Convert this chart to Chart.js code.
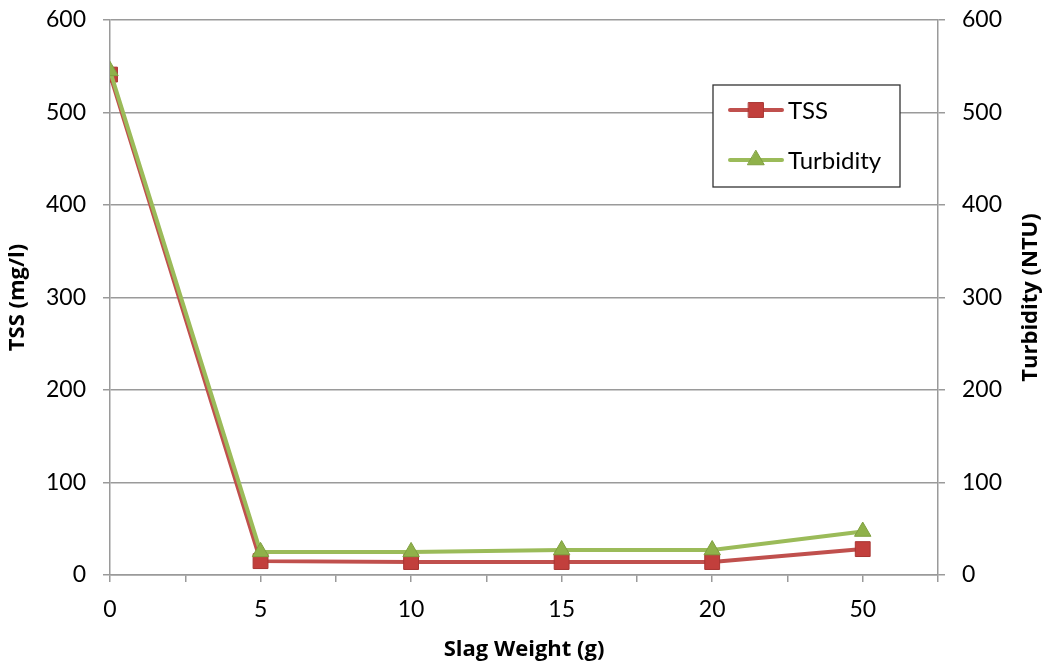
<!DOCTYPE html>
<html>
<head>
<meta charset="utf-8">
<script src="https://cdn.jsdelivr.net/npm/chart.js@4"></script>
<style>
    html, body { margin: 0; padding: 0; background: #fff; }
    #wrap { width: 1047px; height: 666px; }
</style>
</head>
<body>
<div id="wrap"><canvas id="myChart" width="1047" height="666"></canvas></div>
<script>
// data
const slagWeights = ['0', '5', '10', '15', '20', '50'];
const tss = [541, 15, 14, 14, 14, 28];
const turbidity = [545, 25, 25, 27, 27, 47];
const yTicks = [0, 100, 200, 300, 400, 500, 600];

const font = 'Lato, "Open Sans", sans-serif';
const boldFont = '"Open Sans", "Noto Sans", sans-serif';
const gridColor = '#9a9a9a';

const toPoints = (vals) => vals.map((v, i) => ({ x: i, y: v }));

function drawMarker(ctx, style, r, x, y) {
    if (style === 'rect') {
        const s = r * Math.SQRT1_2;
        ctx.rect(x - s, y - s, 2 * s, 2 * s);
    } else {
        ctx.moveTo(x, y - r);
        ctx.lineTo(x + r * 0.866, y + r / 2);
        ctx.lineTo(x - r * 0.866, y + r / 2);
        ctx.closePath();
    }
}

// legend box inside the plot + right axis title (reads bottom to top)
const boxLegend = {
    id: 'boxLegend',
    afterDraw(chart) {
        const ctx = chart.ctx;
        const x = 713, y = 85, w = 187, h = 102;
        ctx.save();
        ctx.fillStyle = '#fff';
        ctx.fillRect(x, y, w, h);
        ctx.strokeStyle = '#333';
        ctx.lineWidth = 1.3;
        ctx.strokeRect(x, y, w, h);
        chart.data.datasets.forEach((ds, i) => {
            const cy = y + 25 + i * 50;
            ctx.strokeStyle = ds.borderColor;
            ctx.lineWidth = 4;
            ctx.lineCap = 'round';
            ctx.beginPath();
            ctx.moveTo(730, cy);
            ctx.lineTo(782, cy);
            ctx.stroke();
            ctx.fillStyle = ds.pointBackgroundColor;
            ctx.strokeStyle = ds.pointBorderColor;
            ctx.lineWidth = 1;
            ctx.beginPath();
            drawMarker(ctx, ds.pointStyle, ds.pointRadius, 756, cy);
            ctx.fill();
            ctx.stroke();
            ctx.fillStyle = '#000';
            ctx.font = '24px ' + font;
            ctx.textBaseline = 'middle';
            ctx.textAlign = 'left';
            ctx.fillText(ds.label, 788, cy + 1);
        });

        const area = chart.chartArea;
        ctx.translate(1031, (area.top + area.bottom) / 2);
        ctx.rotate(-Math.PI / 2);
        ctx.fillStyle = '#000';
        ctx.font = 'bold 22px ' + boldFont;
        ctx.textAlign = 'center';
        ctx.textBaseline = 'middle';
        ctx.fillText('Turbidity (NTU)', 0, 0);
        ctx.restore();
    },
};

const fitY = (w) => (s) => {
    s.width = w;
    s.paddingTop = 0;
    s.paddingBottom = 0;
};

new Chart(document.getElementById('myChart'), {
    type: 'line',
    data: {
        datasets: [
            {
                label: 'TSS',
                data: toPoints(tss),
                yAxisID: 'y',
                borderColor: '#c0504d',
                borderWidth: 4,
                pointStyle: 'rect',
                pointRadius: 10.5,
                pointBackgroundColor: '#c23f3c',
                pointBorderColor: '#a83532',
                pointBorderWidth: 1,
                order: 2,
            },
            {
                label: 'Turbidity',
                data: toPoints(turbidity),
                yAxisID: 'y2',
                borderColor: '#9bbb59',
                borderWidth: 4,
                pointStyle: 'triangle',
                pointRadius: 9.5,
                pointBackgroundColor: '#8fb14a',
                pointBorderColor: '#7f9f3f',
                pointBorderWidth: 1,
                order: 1,
            },
        ],
    },
    options: {
        responsive: false,
        animation: false,
        layout: { autoPadding: false, padding: { top: 20, left: 0, right: 0, bottom: 0 } },
        plugins: {
            legend: { display: false },
            tooltip: { enabled: false },
        },
        scales: {
            x: {
                type: 'linear',
                min: 0,
                max: 5.5,
                afterFit: (s) => { s.height = 91; },
                afterBuildTicks: (s) => {
                    s.ticks = [];
                    for (let i = 0; i <= 11; i++) s.ticks.push({ value: i / 2 });
                },
                ticks: {
                    autoSkip: false,
                    maxRotation: 0,
                    padding: 14,
                    color: '#000',
                    font: { family: font, size: 23 },
                    callback: (v) => (Number.isInteger(v) ? slagWeights[v] : ''),
                },
                grid: { drawOnChartArea: false, color: gridColor, lineWidth: 1.5, tickLength: 7 },
                border: { color: gridColor, width: 1.5 },
                title: {
                    display: true,
                    text: 'Slag Weight (g)',
                    color: '#000',
                    font: { family: boldFont, size: 22, weight: 'bold' },
                    padding: { top: 4, bottom: 3 },
                },
            },
            y: {
                position: 'left',
                min: 0,
                max: 600,
                afterFit: fitY(110),
                afterBuildTicks: (s) => { s.ticks = yTicks.map((v) => ({ value: v })); },
                ticks: {
                    padding: 17,
                    color: '#000',
                    font: { family: font, size: 23 },
                },
                grid: { color: gridColor, lineWidth: 1.5, tickLength: 7 },
                border: { color: gridColor, width: 1.5 },
                title: {
                    display: true,
                    text: 'TSS (mg/l)',
                    color: '#000',
                    font: { family: boldFont, size: 22, weight: 'bold' },
                    padding: { bottom: 0, top: 5 },
                },
            },
            y2: {
                position: 'right',
                min: 0,
                max: 600,
                afterFit: fitY(109),
                afterBuildTicks: (s) => { s.ticks = yTicks.map((v) => ({ value: v })); },
                ticks: {
                    padding: 17,
                    color: '#000',
                    font: { family: font, size: 23 },
                },
                grid: { drawOnChartArea: false, color: gridColor, lineWidth: 1.5, tickLength: 7 },
                border: { color: gridColor, width: 1.5 },
            },
        },
    },
    plugins: [boxLegend],
});
</script>
</body>
</html>
